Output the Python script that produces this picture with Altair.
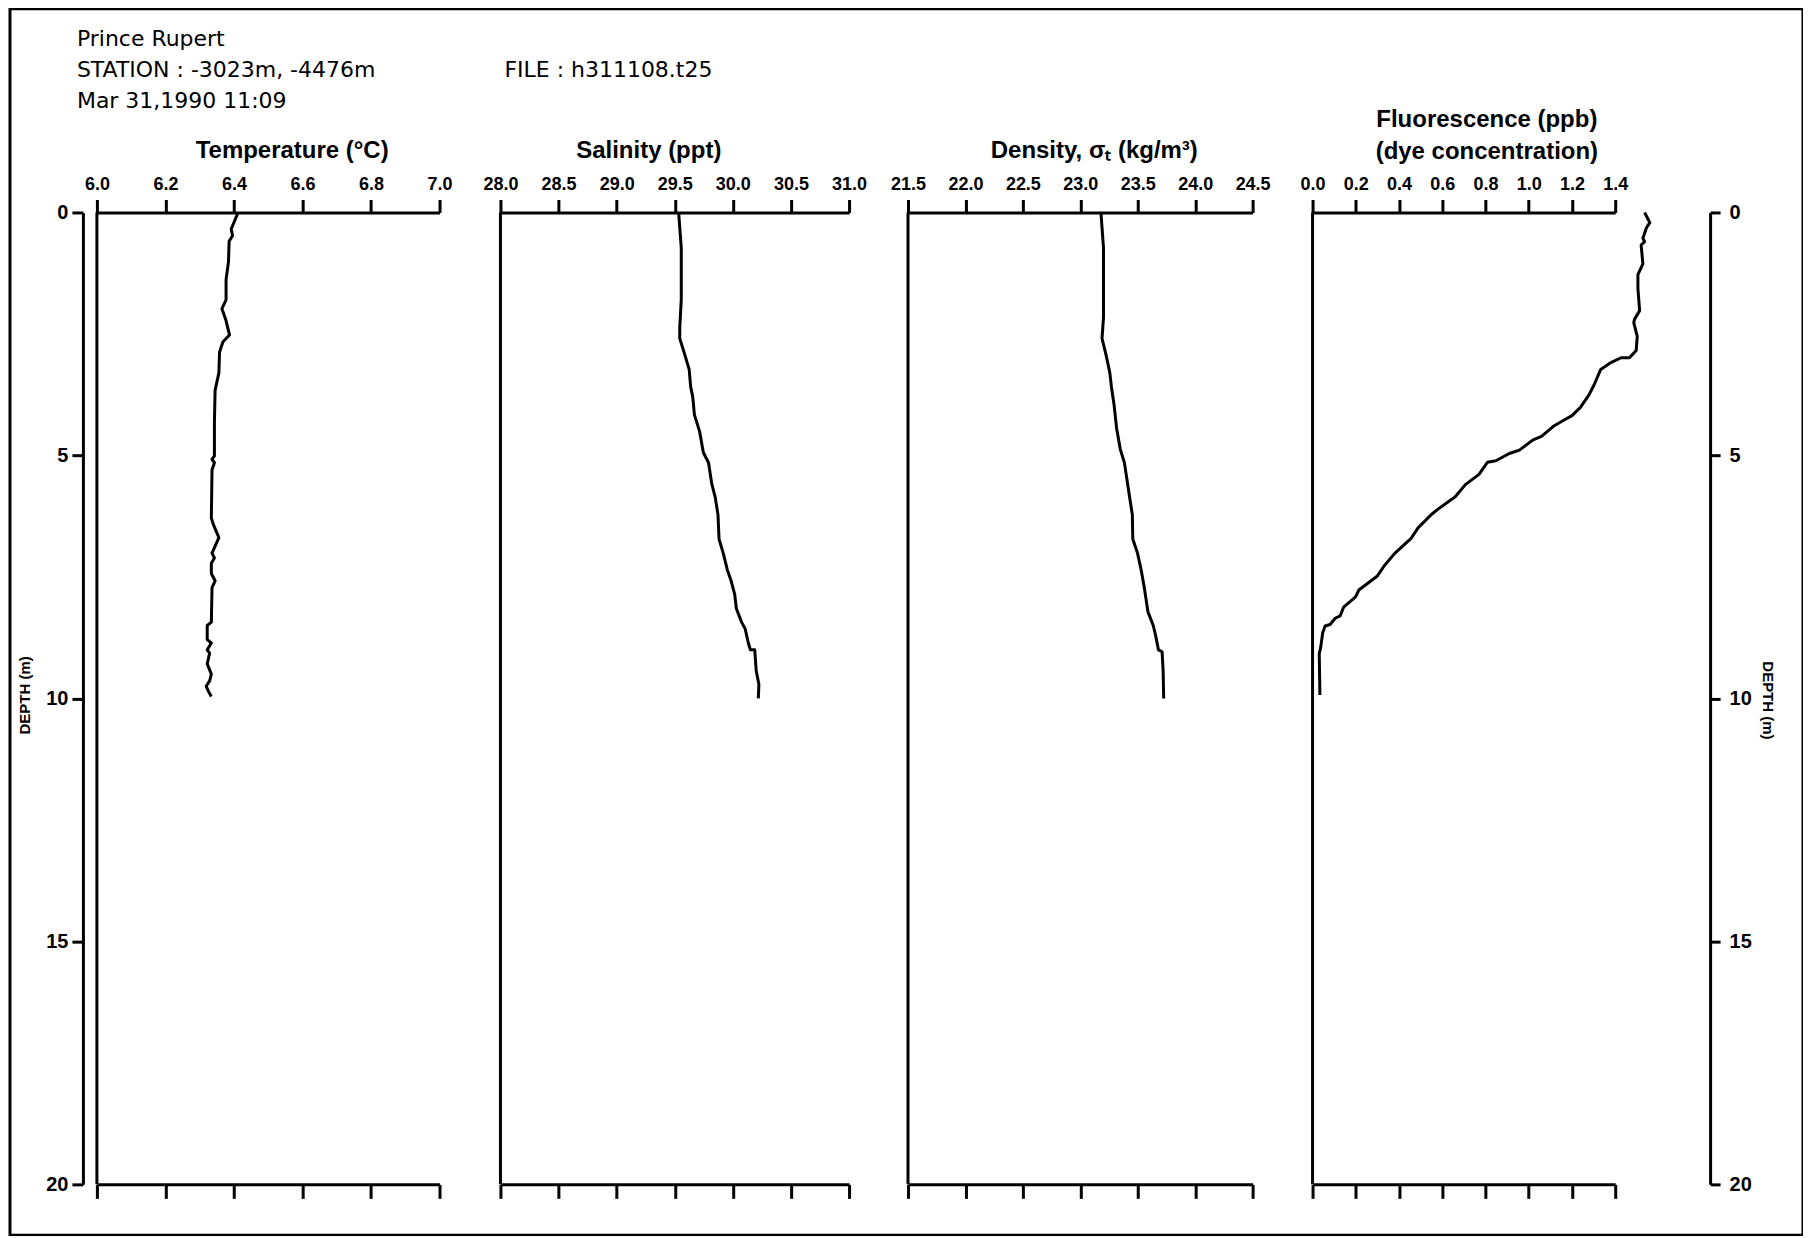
import altair as alt
import pandas as pd

# ---------------- header text ----------------
HEADER_LINES = ["Prince Rupert", "STATION : -3023m, -4476m", "Mar 31,1990 11:09"]
FILE_LABEL = "FILE : h311108.t25"

# ---------------- profiles ----------------
temp_depth = [0.02, 0.34, 0.48, 0.59, 1.02, 1.38, 1.80, 1.98, 2.23, 2.52, 2.66, 2.87, 3.30,
              3.66, 4.30, 5.01, 5.08, 5.15, 5.30, 6.29, 6.44, 6.69, 7.01, 7.11, 7.22, 7.43,
              7.58, 7.72, 8.43, 8.50, 8.79, 8.86, 9.00, 9.07, 9.29, 9.50, 9.64, 9.75, 9.86, 9.96]
temp_value = [6.411, 6.392, 6.396, 6.386, 6.384, 6.377, 6.377, 6.365, 6.377, 6.387, 6.368,
              6.358, 6.356, 6.345, 6.343, 6.343, 6.336, 6.343, 6.336, 6.334, 6.341, 6.356,
              6.336, 6.343, 6.334, 6.334, 6.345, 6.336, 6.334, 6.322, 6.322, 6.334, 6.322,
              6.329, 6.322, 6.334, 6.329, 6.319, 6.326, 6.334]

sal_depth = [0.02, 0.73, 1.80, 2.37, 2.59, 2.87, 3.23, 3.59, 3.80, 4.16, 4.51, 4.94, 5.15,
             5.58, 5.87, 6.22, 6.72, 7.01, 7.36, 7.58, 7.86, 8.15, 8.43, 8.57, 8.86, 9.00,
             9.00, 9.43, 9.71, 10.00]
sal_value = [29.534, 29.556, 29.556, 29.543, 29.543, 29.579, 29.624, 29.637, 29.655, 29.669,
             29.714, 29.746, 29.791, 29.818, 29.849, 29.872, 29.881, 29.917, 29.953, 29.985,
             30.016, 30.030, 30.075, 30.106, 30.133, 30.151, 30.188, 30.201, 30.224, 30.219]

dens_depth = [0.02, 0.73, 2.16, 2.59, 2.94, 3.30, 3.59, 3.94, 4.44, 4.87, 5.15, 5.51, 5.87,
              6.22, 6.72, 7.01, 7.36, 7.72, 8.22, 8.50, 8.72, 9.00, 9.04, 9.43, 10.00]
dens_value = [23.180, 23.202, 23.202, 23.189, 23.225, 23.257, 23.271, 23.293, 23.316, 23.348,
              23.384, 23.407, 23.430, 23.453, 23.457, 23.498, 23.530, 23.557, 23.589, 23.635,
              23.657, 23.680, 23.712, 23.721, 23.726]

fluo_depth = [0.00, 0.14, 0.21, 0.32, 0.43, 0.53, 0.60, 0.67, 1.06, 1.28, 1.56, 2.02, 2.20,
              2.27, 2.55, 2.84, 2.99, 2.99, 3.09, 3.23, 3.55, 3.76, 4.01, 4.18, 4.26, 4.40,
              4.61, 4.68, 4.89, 4.96, 5.11, 5.14, 5.39, 5.60, 5.85, 6.10, 6.21, 6.49, 6.70,
              7.02, 7.27, 7.48, 7.77, 7.91, 8.12, 8.30, 8.35, 8.48, 8.51, 8.65, 8.94, 9.08, 9.93]
fluo_value = [1.536, 1.552, 1.560, 1.544, 1.536, 1.528, 1.536, 1.520, 1.528, 1.505, 1.505,
              1.513, 1.489, 1.486, 1.502, 1.497, 1.466, 1.427, 1.380, 1.333, 1.302, 1.278,
              1.239, 1.200, 1.168, 1.114, 1.059, 1.020, 0.957, 0.910, 0.848, 0.809, 0.770,
              0.707, 0.660, 0.582, 0.551, 0.488, 0.457, 0.379, 0.332, 0.300, 0.214, 0.199,
              0.144, 0.128, 0.105, 0.081, 0.058, 0.047, 0.038, 0.031, 0.034]

# axis tick values
temp_ticks = [6.0, 6.2, 6.4, 6.6, 6.8, 7.0]
sal_ticks = [28.0, 28.5, 29.0, 29.5, 30.0, 30.5, 31.0]
dens_ticks = [21.5, 22.0, 22.5, 23.0, 23.5, 24.0, 24.5]
fluo_ticks = [0.0, 0.2, 0.4, 0.6, 0.8, 1.0, 1.2, 1.4]
depth_ticks = [0, 5, 10, 15, 20]

# ---------------- layout ----------------
W, H = 1795, 1228
Y_RANGE = [204, 1177]
TOP_OFFSET = -Y_RANGE[0]
BOTTOM_OFFSET = Y_RANGE[1] - H

LABEL_FONT = "Liberation Sans"
TITLE_FONT = "Liberation Sans"
HEADER_FONT = "DejaVu Sans"

panels = [
    dict(title="Temperature (°C)", depth=temp_depth, values=temp_value, ticks=temp_ticks,
         rng=[87, 430], titleX=282, titleY=-55, yaxis="left"),
    dict(title="Salinity (ppt)", depth=sal_depth, values=sal_value, ticks=sal_ticks,
         rng=[491, 840], titleX=639, titleY=-55, yaxis=None),
    dict(title="Density, σₜ (kg/m³)", depth=dens_depth, values=dens_value, ticks=dens_ticks,
         rng=[899, 1244], titleX=1085, titleY=-55, yaxis=None),
    dict(title=["Fluorescence (ppb)", "(dye concentration)"], depth=fluo_depth,
         values=fluo_value, ticks=fluo_ticks, rng=[1304, 1607], titleX=1478, titleY=-86,
         yaxis="right"),
]

yscale = alt.Scale(domain=[0, 20], range=Y_RANGE, nice=False, zero=False)

common_axis = dict(grid=False, domainColor="black", domainWidth=3, tickColor="black",
                   tickWidth=3, labelColor="black", labelFont=LABEL_FONT,
                   labelFontWeight="bold", labelOverlap=False, labelFlush=False,
                   labelBound=False)

layers = []
for p in panels:
    xscale = alt.Scale(domain=[p["ticks"][0], p["ticks"][-1]], range=p["rng"],
                       nice=False, zero=False)
    top_axis = alt.Axis(orient="top", offset=TOP_OFFSET, values=p["ticks"], format=".1f",
                        tickSize=13, labelPadding=10, labelBaseline="alphabetic",
                        labelFontSize=18, title=p["title"], titleFont=TITLE_FONT,
                        titleFontSize=24, titleFontWeight="bold", titleColor="black",
                        titleX=p["titleX"], titleY=p["titleY"], titleAlign="center",
                        titleBaseline="alphabetic", titleLineHeight=32, titleAngle=0,
                        **common_axis)
    if p["yaxis"] == "left":
        yaxis = alt.Axis(orient="left", offset=-73, values=depth_ticks, format="d",
                         tickSize=11, labelPadding=4, labelFontSize=20,
                         labelBaseline="middle", title="DEPTH (m)", titleFont=TITLE_FONT,
                         titleFontSize=15, titleFontWeight="bold", titleColor="black",
                         titleAngle=270, titleX=-58, titleY=687, titleAlign="center",
                         titleBaseline="middle", **common_axis)
    elif p["yaxis"] == "right":
        yaxis = alt.Axis(orient="right", offset=1702 - W, values=depth_ticks, format="d",
                         tickSize=10, labelPadding=9, labelFontSize=20,
                         labelBaseline="middle", title="DEPTH (m)", titleFont=TITLE_FONT,
                         titleFontSize=15, titleFontWeight="bold", titleColor="black",
                         titleAngle=90, titleX=57, titleY=692, titleAlign="center",
                         titleBaseline="middle", **common_axis)
    else:
        yaxis = None

    df = pd.DataFrame({"value": p["values"], "depth": p["depth"],
                       "seq": list(range(len(p["values"])))})
    line = alt.Chart(df).mark_line(color="black", strokeWidth=3, strokeJoin="round").encode(
        x=alt.X("value:Q", scale=xscale, axis=top_axis),
        y=alt.Y("depth:Q", scale=yscale, axis=yaxis),
        order=alt.Order("seq:Q"),
    )

    bottom_axis = alt.Axis(orient="bottom", offset=BOTTOM_OFFSET, values=p["ticks"],
                           labels=False, tickSize=14, title=None, **common_axis)
    rule_df = pd.DataFrame({"xv": [p["ticks"][0]], "y0": [0], "y1": [20]})
    rule = alt.Chart(rule_df).mark_rule(color="black", strokeWidth=3).encode(
        x=alt.X("xv:Q", scale=xscale, axis=bottom_axis),
        y=alt.Y("y0:Q", scale=yscale, axis=None),
        y2="y1:Q",
    )
    layers += [line, rule]

header = alt.Chart(pd.DataFrame({"t": ["\n".join(HEADER_LINES)]})).mark_text(
    align="left", baseline="alphabetic", font=HEADER_FONT, fontSize=22, color="black",
    lineBreak="\n", lineHeight=31,
).encode(x=alt.value(67), y=alt.value(37), text="t:N")

file_text = alt.Chart(pd.DataFrame({"t": [FILE_LABEL]})).mark_text(
    align="left", baseline="alphabetic", font=HEADER_FONT, fontSize=22, color="black",
).encode(x=alt.value(495), y=alt.value(68), text="t:N")

chart = alt.layer(*layers, header, file_text).resolve_scale(
    x="independent"
).resolve_axis(
    x="independent", y="independent"
).properties(
    width=W, height=H,
    padding={"left": 2, "top": 0, "right": 0, "bottom": 0},
    autosize=alt.AutoSizeParams(type="none"),
    background="white",
).configure_view(stroke="black", strokeWidth=3)

chart.save("out.html", embed_options={"renderer": "svg", "actions": False})
